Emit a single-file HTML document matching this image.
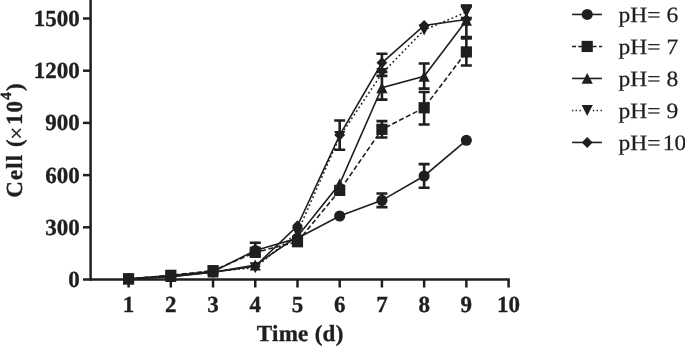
<!DOCTYPE html>
<html><head><meta charset="utf-8"><title>Cell growth vs pH</title>
<style>
html,body{margin:0;padding:0;background:#fff;}
body{width:685px;height:346px;overflow:hidden;}
svg{display:block;}
text{font-family:"Liberation Serif",serif;fill:#211e1f;text-rendering:geometricPrecision;}
.b{font-weight:bold;font-size:23px;stroke:#211e1f;stroke-width:0.35px;stroke-linejoin:round;}
.r{font-size:21.9px;stroke:#211e1f;stroke-width:0.25px;}
polygon,rect,circle{fill:#211e1f;}
</style></head><body>
<svg width="685" height="346" viewBox="0 0 685 346">
<rect x="0" y="0" width="685" height="346" style="fill:#fff"/>
<g>
<path d="M90.6 0V280.75" stroke="#211e1f" stroke-width="2.5" fill="none"/>
<path d="M83 279.5H509.83" stroke="#211e1f" stroke-width="2.5" fill="none"/>
<path d="M83 227.30H90.6" stroke="#211e1f" stroke-width="2.5"/>
<path d="M83 175.10H90.6" stroke="#211e1f" stroke-width="2.5"/>
<path d="M83 122.90H90.6" stroke="#211e1f" stroke-width="2.5"/>
<path d="M83 70.70H90.6" stroke="#211e1f" stroke-width="2.5"/>
<path d="M83 18.50H90.6" stroke="#211e1f" stroke-width="2.5"/>
<path d="M128.60 279.5V287.5" stroke="#211e1f" stroke-width="2.5"/>
<path d="M170.82 279.5V287.5" stroke="#211e1f" stroke-width="2.5"/>
<path d="M213.04 279.5V287.5" stroke="#211e1f" stroke-width="2.5"/>
<path d="M255.26 279.5V287.5" stroke="#211e1f" stroke-width="2.5"/>
<path d="M297.48 279.5V287.5" stroke="#211e1f" stroke-width="2.5"/>
<path d="M339.70 279.5V287.5" stroke="#211e1f" stroke-width="2.5"/>
<path d="M381.92 279.5V287.5" stroke="#211e1f" stroke-width="2.5"/>
<path d="M424.14 279.5V287.5" stroke="#211e1f" stroke-width="2.5"/>
<path d="M466.36 279.5V287.5" stroke="#211e1f" stroke-width="2.5"/>
<path d="M508.58 279.5V287.5" stroke="#211e1f" stroke-width="2.5"/>
<text x="79.8" y="286.90" text-anchor="end" class="b">0</text>
<text x="79.8" y="234.70" text-anchor="end" class="b">300</text>
<text x="79.8" y="182.50" text-anchor="end" class="b">600</text>
<text x="79.8" y="130.30" text-anchor="end" class="b">900</text>
<text x="79.8" y="78.10" text-anchor="end" class="b">1200</text>
<text x="79.8" y="25.90" text-anchor="end" class="b">1500</text>
<text x="128.60" y="312.3" text-anchor="middle" class="b">1</text>
<text x="170.82" y="312.3" text-anchor="middle" class="b">2</text>
<text x="213.04" y="312.3" text-anchor="middle" class="b">3</text>
<text x="255.26" y="312.3" text-anchor="middle" class="b">4</text>
<text x="297.48" y="312.3" text-anchor="middle" class="b">5</text>
<text x="339.70" y="312.3" text-anchor="middle" class="b">6</text>
<text x="381.92" y="312.3" text-anchor="middle" class="b">7</text>
<text x="424.14" y="312.3" text-anchor="middle" class="b">8</text>
<text x="466.36" y="312.3" text-anchor="middle" class="b">9</text>
<text x="508.58" y="312.3" text-anchor="middle" class="b">10</text>
<text x="300.2" y="340.9" text-anchor="middle" class="b" style="letter-spacing:0.3px">Time (d)</text>
<text transform="translate(21.7 140) rotate(-90)" text-anchor="middle" class="b" style="letter-spacing:1.1px">Cell (<tspan dx="-1.5" dy="2.6" style="font-weight:normal">×</tspan><tspan dx="0.5" dy="-2.6">10</tspan><tspan dy="-10.3" style="font-size:15.5px">4</tspan><tspan dy="10.3">)</tspan></text>
</g>
<g>
<polyline points="128.60,278.80 170.82,275.67 213.04,271.67 255.26,250.44 297.48,238.26 339.70,215.99 381.92,200.33 424.14,175.97 466.36,140.30" fill="none" stroke="#211e1f" stroke-width="1.6"/>
<path d="M255.26 242.79V255.66M249.76 242.79h11M249.76 255.66h11" stroke="#211e1f" stroke-width="2.6" fill="none"/>
<path d="M381.92 193.54V207.12M376.42 193.54h11M376.42 207.12h11" stroke="#211e1f" stroke-width="2.6" fill="none"/>
<path d="M424.14 164.14V187.80M418.64 164.14h11M418.64 187.80h11" stroke="#211e1f" stroke-width="2.6" fill="none"/>
<circle cx="128.60" cy="278.80" r="5.55"/>
<circle cx="170.82" cy="275.67" r="5.55"/>
<circle cx="213.04" cy="271.67" r="5.55"/>
<circle cx="255.26" cy="250.44" r="5.55"/>
<circle cx="297.48" cy="238.26" r="5.55"/>
<circle cx="339.70" cy="215.99" r="5.55"/>
<circle cx="381.92" cy="200.33" r="5.55"/>
<circle cx="424.14" cy="175.97" r="5.55"/>
<circle cx="466.36" cy="140.30" r="5.55"/>
<polyline points="128.60,278.80 170.82,275.32 213.04,270.63 255.26,252.36 297.48,241.74 339.70,190.41 381.92,129.34 424.14,107.76 466.36,51.91" fill="none" stroke="#211e1f" stroke-width="1.6" stroke-dasharray="5 2.6"/>
<path d="M381.92 121.16V137.52M376.42 121.16h11M376.42 137.52h11" stroke="#211e1f" stroke-width="2.6" fill="none"/>
<path d="M424.14 91.93V124.47M418.64 91.93h11M418.64 124.47h11" stroke="#211e1f" stroke-width="2.6" fill="none"/>
<path d="M466.36 38.34V65.48M460.86 38.34h11M460.86 65.48h11" stroke="#211e1f" stroke-width="2.6" fill="none"/>
<rect x="123.00" y="273.20" width="11.2" height="11.2"/>
<rect x="165.22" y="269.72" width="11.2" height="11.2"/>
<rect x="207.44" y="265.03" width="11.2" height="11.2"/>
<rect x="249.66" y="246.76" width="11.2" height="11.2"/>
<rect x="291.88" y="236.14" width="11.2" height="11.2"/>
<rect x="334.10" y="184.81" width="11.2" height="11.2"/>
<rect x="376.32" y="123.74" width="11.2" height="11.2"/>
<rect x="418.54" y="102.16" width="11.2" height="11.2"/>
<rect x="460.76" y="46.31" width="11.2" height="11.2"/>
<polyline points="128.60,278.98 170.82,276.54 213.04,272.19 255.26,265.06 297.48,236.52 339.70,183.80 381.92,87.75 424.14,76.27 466.36,20.41" fill="none" stroke="#211e1f" stroke-width="1.6"/>
<path d="M381.92 75.92V99.58M376.42 75.92h11M376.42 99.58h11" stroke="#211e1f" stroke-width="2.6" fill="none"/>
<path d="M424.14 63.57V88.62M418.64 63.57h11M418.64 88.62h11" stroke="#211e1f" stroke-width="2.6" fill="none"/>
<path d="M466.36 5.62V37.12M460.86 5.62h11M460.86 37.12h11" stroke="#211e1f" stroke-width="2.6" fill="none"/>
<polygon points="128.60,273.48 134.20,284.38 123.00,284.38"/>
<polygon points="170.82,271.04 176.42,281.94 165.22,281.94"/>
<polygon points="213.04,266.69 218.64,277.59 207.44,277.59"/>
<polygon points="255.26,259.56 260.86,270.46 249.66,270.46"/>
<polygon points="297.48,231.02 303.08,241.92 291.88,241.92"/>
<polygon points="339.70,178.30 345.30,189.20 334.10,189.20"/>
<polygon points="381.92,82.25 387.52,93.15 376.32,93.15"/>
<polygon points="424.14,70.77 429.74,81.67 418.54,81.67"/>
<polygon points="466.36,14.91 471.96,25.81 460.76,25.81"/>
<polyline points="128.60,278.98 170.82,276.02 213.04,271.50 255.26,267.67 297.48,232.52 339.70,136.47 381.92,73.48 424.14,29.98 466.36,12.06" fill="none" stroke="#211e1f" stroke-width="1.6" stroke-dasharray="1.7 2.7"/>
<path d="M466.36 6.15V17.98M460.86 6.15h11M460.86 17.98h11" stroke="#211e1f" stroke-width="2.6" fill="none"/>
<polygon points="128.60,284.48 134.20,273.58 123.00,273.58"/>
<polygon points="170.82,281.52 176.42,270.62 165.22,270.62"/>
<polygon points="213.04,277.00 218.64,266.10 207.44,266.10"/>
<polygon points="255.26,273.17 260.86,262.27 249.66,262.27"/>
<polygon points="297.48,238.02 303.08,227.12 291.88,227.12"/>
<polygon points="339.70,141.97 345.30,131.07 334.10,131.07"/>
<polygon points="381.92,78.98 387.52,68.08 376.32,68.08"/>
<polygon points="424.14,35.48 429.74,24.58 418.54,24.58"/>
<polygon points="466.36,17.56 471.96,6.66 460.76,6.66"/>
<polyline points="128.60,278.98 170.82,276.72 213.04,272.19 255.26,266.28 297.48,225.73 339.70,135.08 381.92,62.87 424.14,25.46 466.36,19.54" fill="none" stroke="#211e1f" stroke-width="1.6"/>
<path d="M339.70 120.46V149.70M334.20 120.46h11M334.20 149.70h11" stroke="#211e1f" stroke-width="2.6" fill="none"/>
<path d="M381.92 53.82V71.92M376.42 53.82h11M376.42 71.92h11" stroke="#211e1f" stroke-width="2.6" fill="none"/>
<polygon points="128.60,273.48 134.00,278.98 128.60,284.48 123.20,278.98"/>
<polygon points="170.82,271.22 176.22,276.72 170.82,282.22 165.42,276.72"/>
<polygon points="213.04,266.69 218.44,272.19 213.04,277.69 207.64,272.19"/>
<polygon points="255.26,260.78 260.66,266.28 255.26,271.78 249.86,266.28"/>
<polygon points="297.48,220.23 302.88,225.73 297.48,231.23 292.08,225.73"/>
<polygon points="339.70,129.58 345.10,135.08 339.70,140.58 334.30,135.08"/>
<polygon points="381.92,57.37 387.32,62.87 381.92,68.37 376.52,62.87"/>
<polygon points="424.14,19.96 429.54,25.46 424.14,30.96 418.74,25.46"/>
<polygon points="466.36,14.04 471.76,19.54 466.36,25.04 460.96,19.54"/>
</g>
<g>
<path d="M572.1 14.45H601.9" stroke="#211e1f" stroke-width="1.6"/>
<circle cx="587.20" cy="14.45" r="5.55"/>
<text x="618.6" y="22.05" class="r" textLength="59.6" lengthAdjust="spacingAndGlyphs">pH= 6</text>
<path d="M572.1 46.45h3.9M578.2 46.45H596.5M599 46.45H602.2" stroke="#211e1f" stroke-width="1.6"/>
<rect x="581.60" y="40.85" width="11.2" height="11.2"/>
<text x="618.6" y="54.05" class="r" textLength="59.6" lengthAdjust="spacingAndGlyphs">pH= 7</text>
<path d="M572.1 78.45H601.9" stroke="#211e1f" stroke-width="1.6"/>
<polygon points="587.20,72.95 592.80,83.85 581.60,83.85"/>
<text x="618.6" y="86.05" class="r" textLength="59.6" lengthAdjust="spacingAndGlyphs">pH= 8</text>
<path d="M572.1 110.45h1.3M575.6 110.45h1.3M579.5 110.45h1.3M592.85 110.45h1.3M596.7 110.45h1.3M600.5 110.45h1.3" stroke="#211e1f" stroke-width="1.6"/>
<polygon points="587.20,115.95 592.80,105.05 581.60,105.05"/>
<text x="618.6" y="118.05" class="r" textLength="59.6" lengthAdjust="spacingAndGlyphs">pH= 9</text>
<path d="M572.1 142.45H601.9" stroke="#211e1f" stroke-width="1.6"/>
<polygon points="587.20,136.95 592.60,142.45 587.20,147.95 581.80,142.45"/>
<text transform="translate(618.6 150.05) scale(1.0731 1)" class="r">pH=<tspan dx="2">10</tspan></text>
</g>
</svg>
</body></html>
